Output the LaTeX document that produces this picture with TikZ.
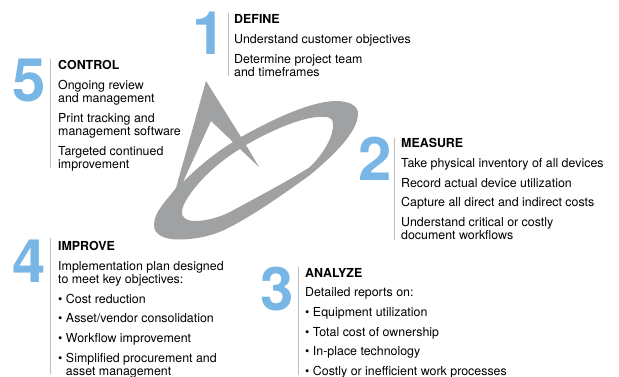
\documentclass[tikz,border=0pt]{standalone}
\usepackage{fontspec}
\setmainfont{TeX Gyre Heros}
\definecolor{numblue}{HTML}{78B6E6}
\definecolor{logogray}{HTML}{A0A1A3}
\definecolor{rulegray}{HTML}{BDBEC0}
\tikzset{
  numeral/.style={anchor=base,inner sep=0pt,text=numblue,font=\fontsize{60}{60}\selectfont\bfseries},
  head/.style={anchor=base west,inner sep=0pt,yshift=-0.6pt,font=\fontsize{12.4}{13.2}\selectfont\bfseries},
  body/.style={anchor=base west,inner sep=0pt,yshift=-0.6pt,align=left,font=\fontsize{12.4}{13.2}\selectfont},
  stepbar/.style={draw=rulegray,line width=1pt},
}
\begin{document}
\begin{tikzpicture}[x=1pt,y=-1pt]
\useasboundingbox (0,0) rectangle (619,377);
% logo
\fill[logogray,even odd rule]
  (176,188) -- (206,81) -- (241,137)
  .. controls (275,118) and (310,102) .. (335,101)
  .. controls (350,101) and (359,106) .. (358,115)
  .. controls (357,128) and (345,146) .. (310,175)
  .. controls (285,193) and (250,218) .. (222,231)
  .. controls (205,238) and (190,239.5) .. (178,239.5)
  .. controls (165,239.5) and (154,235) .. (154,225)
  .. controls (154,212) and (166,201) .. (176,188) -- cycle
  (211,121) -- (233,142)
  .. controls (215,153) and (198,167) .. (183,182) -- cycle
  (246,145) .. controls (270,131) and (300,118) .. (318,117)
  .. controls (328,116) and (333,118) .. (333,123)
  .. controls (334,135) and (325,152) .. (310,167)
  .. controls (290,180) and (250,201) .. (230,212)
  .. controls (218,218) and (205,221) .. (195,221)
  .. controls (186,221) and (181,217) .. (182,211)
  .. controls (183,200) and (205,170) .. (240,149)
  -- (259,167) -- cycle;
% 1
\node[numeral] (n1) at (209,54.5) {1};
\draw[stepbar] (228,13) coordinate (b1a) -- (228,76) coordinate (b1b);
\node[head] (h1) at (234,23) {DEFINE};
\node[body] (t1a) at (234,43) {Understand customer objectives};
\node[body] (t1b) at (234,76) {Determine project team\\and timeframes};
% 5
\node[numeral] (n5) at (29,102) {5};
\draw[stepbar] (50,59) coordinate (b5a) -- (50,168) coordinate (b5b);
\node[head] (h5) at (58,69) {CONTROL};
\node[body] (t5a) at (58,102) {Ongoing review\\and management};
\node[body] (t5b) at (58,135) {Print tracking and\\management software};
\node[body] (t5c) at (58,168) {Targeted continued\\improvement};
% 2
\node[numeral] (n2) at (375,180.5) {2};
\draw[stepbar] (394,138) coordinate (b2a) -- (394,240) coordinate (b2b);
\node[head] (h2) at (401,147) {MEASURE};
\node[body] (t2a) at (401,167) {Take physical inventory of all devices};
\node[body] (t2b) at (401,187) {Record actual device utilization};
\node[body] (t2c) at (401,206) {Capture all direct and indirect costs};
\node[body] (t2d) at (401,239) {Understand critical or costly\\document workflows};
% 4
\node[numeral] (n4) at (29,282) {4};
\draw[stepbar] (50,238) coordinate (b4a) -- (50,374) coordinate (b4b);
\node[head] (h4) at (58,250) {IMPROVE};
\node[body] (t4a) at (58,283) {Implementation plan designed\\to meet key objectives:};
\node[body] (t4b) at (58,303) {• Cost reduction};
\node[body] (t4c) at (58,322) {• Asset/vendor consolidation};
\node[body] (t4d) at (58,342) {• Workflow improvement};
\node[body] (t4e) at (58,375) {• Simplified procurement and\\\phantom{• }asset management};
% 3
\node[numeral] (n3) at (277,310.5) {3};
\draw[stepbar] (298,267) coordinate (b3a) -- (298,375) coordinate (b3b);
\node[head] (h3) at (305,277) {ANALYZE};
\node[body] (t3a) at (305,296) {Detailed reports on:};
\node[body] (t3b) at (305,316) {• Equipment utilization};
\node[body] (t3c) at (305,336) {• Total cost of ownership};
\node[body] (t3d) at (305,355) {• In-place technology};
\node[body] (t3e) at (305,375) {• Costly or inefficient work processes};
\end{tikzpicture}
\end{document}
